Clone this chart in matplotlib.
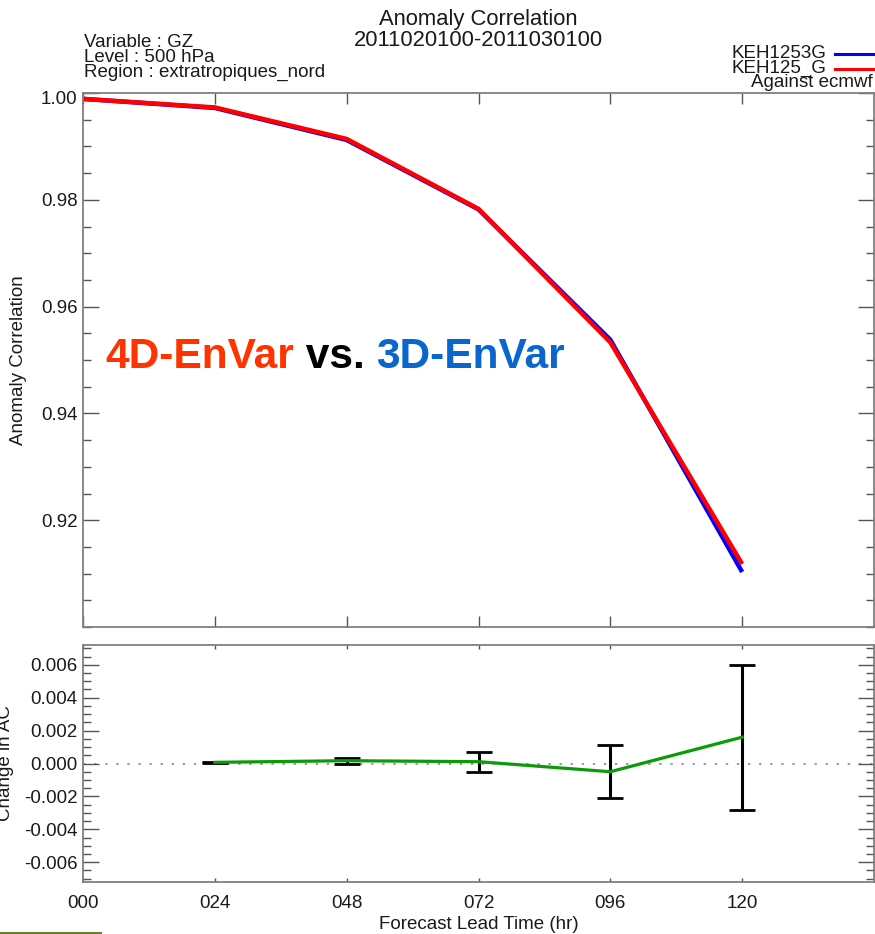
import matplotlib
matplotlib.use("Agg")
import matplotlib.pyplot as plt
from matplotlib.lines import Line2D
from matplotlib.transforms import ScaledTranslation
from matplotlib.ticker import MultipleLocator, FixedLocator, FormatStrFormatter

plt.rcParams['font.family'] = ['Liberation Sans', 'DejaVu Sans']
plt.rcParams['axes.unicode_minus'] = False

# Forecast lead times (hours) and anomaly correlation scores
lead_hours = [0, 24, 48, 72, 96, 120]
lead_labels = ["000", "024", "048", "072", "096", "120"]
ac_3denvar = [0.9989, 0.9972, 0.9912, 0.9782, 0.9538, 0.9103]   # KEH1253G
ac_4denvar = [0.9989, 0.9973, 0.9914, 0.9783, 0.9533, 0.9118]   # KEH125_G

# Score difference (KEH125_G - KEH1253G) with confidence half-widths
diff_hours = [24, 48, 72, 96, 120]
diff_ac = [0.00007, 0.00017, 0.00011, -0.0005, 0.0016]
diff_err = [0.00003, 0.00017, 0.0006, 0.0016, 0.0044]

W, H = 875, 934
fig = plt.figure(figsize=(W / 100, H / 100), dpi=100)


def fx(px):
    return px / W


def fy(py):
    return 1 - py / H


text_col = '#1a1a1a'
spine_col = '#808080'
fs = 13.5

ax1 = fig.add_axes([fx(83), fy(627), fx(874) - fx(83), fy(93) - fy(627)])
ax2 = fig.add_axes([fx(83), fy(882), fx(874) - fx(83), fy(645) - fy(882)])

for ax in (ax1, ax2):
    for s in ax.spines.values():
        s.set_color(spine_col)
        s.set_linewidth(1.3)
    ax.set_xlim(0, 144)
    ax.xaxis.set_major_locator(FixedLocator(lead_hours))
    ax.tick_params(axis='both', which='both', direction='in', colors='#555555',
                   labelcolor=text_col, labelsize=fs, width=1.0)
    ax.tick_params(axis='y', which='both', left=True, right=True)
    ax.tick_params(axis='x', which='both', top=True, bottom=True)
    ax.tick_params(axis='y', which='major', length=11.5, pad=4)
    ax.tick_params(axis='y', which='minor', length=5.8)

# Upper panel: anomaly correlation curves
ax1.plot(lead_hours, ac_3denvar, color='#0000ff', lw=3.2, solid_capstyle='butt')
ax1.plot(lead_hours, ac_4denvar, color='#ff0000', lw=3.2, solid_capstyle='butt')
ax1.set_ylim(0.90, 1.00)
ac_ticks = [0.92, 0.94, 0.96, 0.98, 1.00]
ax1.yaxis.set_major_locator(FixedLocator(ac_ticks))
ax1.yaxis.set_minor_locator(MultipleLocator(0.005))
ax1.yaxis.set_major_formatter(FormatStrFormatter('%.2f'))
ax1.tick_params(axis='x', which='major', length=8, labelbottom=False)
ax1.set_ylabel("Anomaly Correlation", fontsize=fs, color=text_col)
ax1.yaxis.set_label_coords(-0.0708, 0.5)

# Lower panel: difference with error bars
ax2.axhline(0, color='#999999', lw=1.4, ls=(0, (1.2, 4.5)), zorder=1)
ax2.errorbar(diff_hours, diff_ac, yerr=diff_err, fmt='none', ecolor='black',
             elinewidth=2.2, capsize=9.5, capthick=2.0, zorder=2)
ax2.plot(diff_hours, diff_ac, color='#0a9a0a', lw=2.3, zorder=3)
ax2.set_ylim(-0.0072, 0.0072)
ax2.yaxis.set_major_locator(FixedLocator([-0.006, -0.004, -0.002, 0.0, 0.002, 0.004, 0.006]))
ax2.yaxis.set_minor_locator(MultipleLocator(0.0005))
ax2.yaxis.set_major_formatter(FormatStrFormatter('%.3f'))
ax2.set_xticklabels(lead_labels)
ax2.tick_params(axis='x', which='major', length=3, pad=9)
ax2.set_ylabel("Change in AC", fontsize=fs, color=text_col)
ax2.yaxis.set_label_coords(-0.0872, 0.5)
ax2.set_xlabel("Forecast Lead Time (hr)", fontsize=fs, color=text_col, labelpad=3)

# The top label of the upper axis sits just below the frame line
top_tick = ax1.yaxis.get_major_ticks(len(ac_ticks))[-1].label1
top_tick.set_transform(top_tick.get_transform()
                       + ScaledTranslation(0, -0.05, fig.dpi_scale_trans))

# Header text
fig.text(fx(478), fy(25), "Anomaly Correlation", ha='center', va='baseline',
         fontsize=15.8, color=text_col)
fig.text(fx(478), fy(46), "2011020100-2011030100", ha='center', va='baseline',
         fontsize=15.8, color=text_col)
for i, line in enumerate(["Variable : GZ", "Level : 500 hPa", "Region : extratropiques_nord"]):
    fig.text(fx(84), fy(47 + 15 * i), line, ha='left', va='baseline',
             fontsize=fs, color=text_col)

# Legend block
fig.text(fx(826), fy(58), "KEH1253G", ha='right', va='baseline', fontsize=fs, color=text_col)
fig.text(fx(826), fy(73), "KEH125_G", ha='right', va='baseline', fontsize=fs, color=text_col)
fig.text(fx(873), fy(87), "Against ecmwf", ha='right', va='baseline', fontsize=fs, color=text_col)
fig.add_artist(Line2D([fx(835), fx(875)], [fy(54), fy(54)], color='#0000ff', lw=2.2,
                      transform=fig.transFigure))
fig.add_artist(Line2D([fx(835), fx(875)], [fy(69), fy(69)], color='#ff0000', lw=2.2,
                      transform=fig.transFigure))

# Annotation comparing the two systems
t1 = fig.text(fx(105), fy(368), "4D-EnVar", ha='left', va='baseline',
              fontsize=30.6, fontweight='bold', color='#ff3300')
t2 = ax1.annotate(" vs. ", xy=(1, 0), xycoords=t1, ha='left', va='bottom',
                  fontsize=30.6, fontweight='bold', color='black')
t3 = ax1.annotate("3D-EnVar", xy=(1, 0), xycoords=t2, ha='left', va='bottom',
                  fontsize=30.6, fontweight='bold', color='#0a66cc')

fig.add_artist(Line2D([0, fx(101)], [fy(933), fy(933)], color='#6d7f2b', lw=1.5,
                      transform=fig.transFigure))

fig.savefig("out.png", dpi=100)
